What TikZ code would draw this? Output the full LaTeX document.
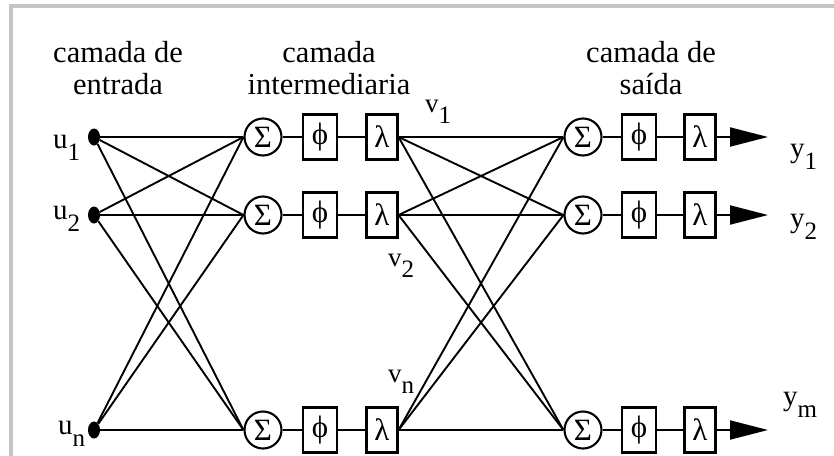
\documentclass[tikz,border=0pt]{standalone}
\usepackage{fontspec}
\setmainfont{Liberation Serif}
\usetikzlibrary{shapes.geometric,arrows.meta}
\definecolor{framegray}{HTML}{C4C4C4}
% lowered index used in the u, v and y labels
\newcommand\lowsub[1]{\raisebox{-0.42em}{\fontsize{25}{25}\selectfont #1}}
\begin{document}
\begin{tikzpicture}[x=1pt,y=-1pt,
  wire/.style={line width=1.9pt},
  neuron/.style={circle,draw,line width=2.1pt,minimum size=37pt,inner sep=0pt,
    font=\fontsize{31}{31}\selectfont},
  phibox/.style={draw,line width=2.1pt,minimum width=34pt,minimum height=45pt,
    inner sep=0pt,font=\fontsize{31}{31}\selectfont},
  lambdabox/.style={phibox,minimum width=31pt},
  inputdot/.style={ellipse,fill=black,minimum width=12pt,minimum height=17pt,inner sep=0pt},
  layertitle/.style={align=center,inner sep=0pt,font=\fontsize{30.5}{32}\selectfont},
  siglabel/.style={anchor=base west,inner sep=0pt,font=\fontsize{29}{29}\selectfont},
  vlabel/.style={siglabel,font=\fontsize{27}{27}\selectfont},
  outarrow/.style={wire,-{Triangle[length=38pt,width=19pt]}}
]
\useasboundingbox (0,0) rectangle (834,455);
\fill[white] (0,0) rectangle (834,455);
% panel frame (left and top edges)
\draw[framegray,line width=4pt] (11,470) -- (11,6) -- (850,6);

% layer titles
\node[layertitle] (t1) at (118,68.5) {camada de\\entrada};
\node[layertitle] (t2) at (329,68.5) {camada\\intermediaria};
\node[layertitle] (t3) at (651,68.5) {camada de\\saída};

% input layer
\node[inputdot] (u1) at (94,137) {};
\node[inputdot] (u2) at (94,215) {};
\node[inputdot] (un) at (94,430) {};
\node[siglabel] (lu1) at (53,148) {u\lowsub{1}};
\node[siglabel] (lu2) at (53,219) {u\lowsub{2}};
\node[siglabel] (lun) at (58,434) {u\lowsub{n}};

% hidden layer
\foreach \r/\y in {1/137,2/215,n/430}{
  \node[neuron] (h\r) at (263,\y) {Σ};
  \node[phibox] (hp\r) at (320,\y) {ϕ};
  \node[lambdabox] (hl\r) at (382,\y) {λ};
  \draw[wire] (h\r) -- (hp\r) -- (hl\r);
}
\node[vlabel] (lv1) at (425,112) {v\lowsub{1}};
\node[vlabel] (lv2) at (388,266) {v\lowsub{2}};
\node[vlabel] (lvn) at (388,382) {v\lowsub{n}};

% output layer
\foreach \r/\y in {1/137,2/215,m/430}{
  \node[neuron] (o\r) at (583,\y) {Σ};
  \node[phibox] (op\r) at (639,\y) {ϕ};
  \node[lambdabox] (ol\r) at (700,\y) {λ};
  \coordinate (tip\r) at (768,\y);
  \draw[wire] (o\r) -- (op\r) -- (ol\r);
  \draw[outarrow] (ol\r) -- (tip\r);
}
\node[siglabel] (ly1) at (790,157) {y\lowsub{1}};
\node[siglabel] (ly2) at (790,227) {y\lowsub{2}};
\node[siglabel] (lym) at (783,405) {y\lowsub{m}};

% full connections: inputs to hidden, hidden to output
\foreach \a in {u1,u2,un}{
  \foreach \b in {1,2,n}{
    \draw[wire] (\a) -- (h\b.west);
  }
}
\foreach \a in {1,2,n}{
  \foreach \b in {1,2,m}{
    \draw[wire] (hl\a.east) -- (o\b.west);
  }
}
\end{tikzpicture}
\end{document}
